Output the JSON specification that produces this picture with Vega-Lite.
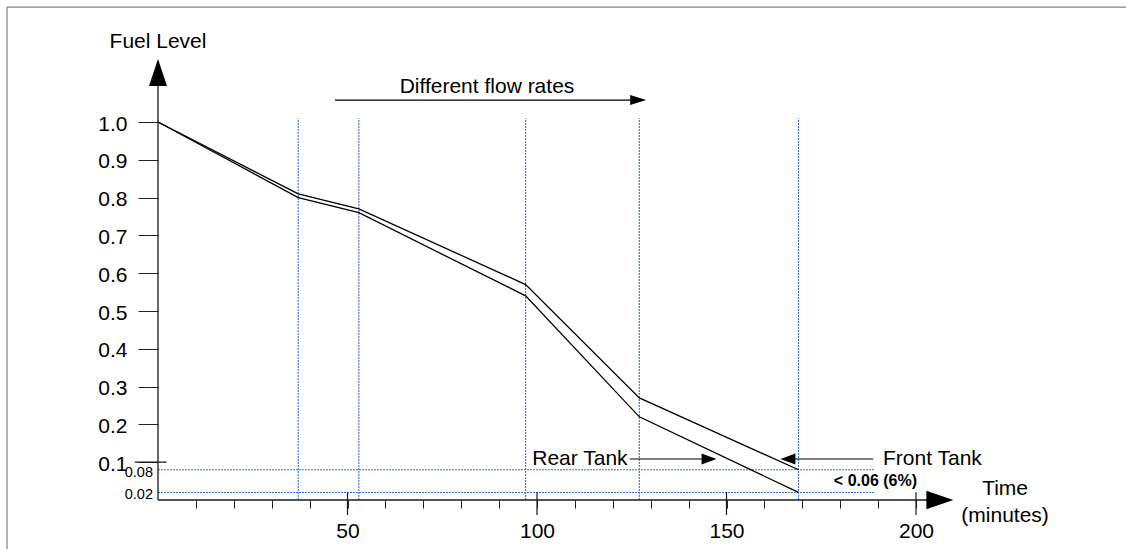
{
  "$schema": "https://vega.github.io/schema/vega-lite/v6.json",
  "autosize": {"type": "none"},
  "padding": {"left": 158, "top": 122, "right": 210, "bottom": 49},
  "width": 758,
  "height": 378,
  "background": "white",
  "config": {
    "view": {"stroke": null},
    "font": "Liberation Sans",
    "text": {"font": "Liberation Sans", "color": "black"}
  },
  "encoding": {
    "x": {
      "field": "time",
      "type": "quantitative",
      "scale": {"domain": [0, 200], "nice": false, "zero": false},
      "axis": {
        "title": null,
        "domain": false,
        "grid": false,
        "values": [10, 20, 30, 40, 50, 60, 70, 80, 90, 100, 110, 120, 130, 140, 150, 160, 170, 180, 190, 200],
        "labelExpr": "datum.value % 50 === 0 ? datum.label : ''",
        "tickSize": 8,
        "tickColor": "#222222",
        "tickWidth": 1,
        "labelPadding": 12,
        "labelFontSize": 21,
        "labelFont": "Liberation Sans",
        "labelColor": "black",
        "labelFlush": false,
        "labelOverlap": false
      }
    },
    "y": {
      "field": "level",
      "type": "quantitative",
      "scale": {"domain": [0, 1], "nice": false, "zero": false},
      "axis": {
        "title": null,
        "domain": false,
        "grid": false,
        "values": [0.1, 0.2, 0.3, 0.4, 0.5, 0.6, 0.7, 0.8, 0.9, 1.0],
        "format": ".1f",
        "tickSize": 20,
        "tickColor": "#222222",
        "tickWidth": 1,
        "labelPadding": 11,
        "labelOffset": 2,
        "labelFontSize": 21,
        "labelFont": "Liberation Sans",
        "labelColor": "black",
        "labelFlush": false,
        "labelOverlap": false
      }
    }
  },
  "layer": [
    {
      "description": "outer frame",
      "data": {"values": [
        {"time": -39.84, "time2": 262, "level": 1.304, "level2": 1.304},
        {"time": -39.84, "time2": -39.84, "level": 1.304, "level2": -0.2}
      ]},
      "mark": {"type": "rule", "color": "#808080", "strokeWidth": 1.2},
      "encoding": {"x2": {"field": "time2"}, "y2": {"field": "level2"}}
    },
    {
      "description": "dotted markers where the flow rate changes",
      "data": {"values": [
        {"time": 37, "level": 0, "level2": 1.01},
        {"time": 53, "level": 0, "level2": 1.01},
        {"time": 97, "level": 0, "level2": 1.01},
        {"time": 127, "level": 0, "level2": 1.01},
        {"time": 169, "level": 0, "level2": 1.01}
      ]},
      "mark": {"type": "rule", "color": "#3a6fd4", "strokeWidth": 1.1, "strokeDash": [2, 1]},
      "encoding": {"y2": {"field": "level2"}}
    },
    {
      "description": "final fuel levels",
      "data": {"name": "finals", "values": [
        {"time": 0, "time2": 189, "level": 0.08, "label": "0.08"},
        {"time": 0, "time2": 189, "level": 0.02, "label": "0.02"}
      ]},
      "mark": {"type": "rule", "color": "#3a6fd4", "strokeWidth": 1.1, "strokeDash": [2, 1]},
      "encoding": {"x2": {"field": "time2"}}
    },
    {
      "data": {"name": "finals"},
      "mark": {"type": "text", "align": "right", "baseline": "middle", "fontSize": 14.5, "dx": -5, "dy": 3},
      "encoding": {"text": {"field": "label"}}
    },
    {
      "description": "axis lines",
      "data": {"values": [
        {"time": 0, "time2": 0, "level": 0, "level2": 1.1},
        {"time": 0, "time2": 203, "level": 0, "level2": 0},
        {"time": -6.1, "time2": 2.3, "level": 0.1, "level2": 0.1}
      ]},
      "mark": {"type": "rule", "color": "#1a1a1a", "strokeWidth": 1.3},
      "encoding": {"x2": {"field": "time2"}, "y2": {"field": "level2"}}
    },
    {
      "description": "major time ticks",
      "data": {"values": [
        {"time": 50, "level": 0.0204, "level2": -0.0397},
        {"time": 100, "level": 0.0204, "level2": -0.0397},
        {"time": 150, "level": 0.0204, "level2": -0.0397},
        {"time": 200, "level": 0.0204, "level2": -0.0397}
      ]},
      "mark": {"type": "rule", "color": "#1a1a1a", "strokeWidth": 1.2},
      "encoding": {"y2": {"field": "level2"}}
    },
    {
      "data": {"values": [{"time": 0, "level": 1.131}]},
      "mark": {"type": "point", "shape": "M 0 -1 L -0.667 1 L 0.667 1 Z", "size": 729, "filled": true, "color": "black", "opacity": 1, "strokeWidth": 0}
    },
    {
      "data": {"values": [{"time": 206.3, "level": 0}]},
      "mark": {"type": "point", "shape": "M 1 0 L -1 -0.69 L -1 0.69 Z", "size": 729, "filled": true, "color": "black", "opacity": 1, "strokeWidth": 0}
    },
    {
      "description": "fuel level of each tank",
      "data": {"values": [
        {"tank": "Front", "time": 0, "level": 1.0},
        {"tank": "Front", "time": 37, "level": 0.81},
        {"tank": "Front", "time": 53, "level": 0.77},
        {"tank": "Front", "time": 97, "level": 0.57},
        {"tank": "Front", "time": 127, "level": 0.27},
        {"tank": "Front", "time": 169, "level": 0.08},
        {"tank": "Rear", "time": 0, "level": 1.0},
        {"tank": "Rear", "time": 37, "level": 0.80},
        {"tank": "Rear", "time": 53, "level": 0.76},
        {"tank": "Rear", "time": 97, "level": 0.54},
        {"tank": "Rear", "time": 127, "level": 0.22},
        {"tank": "Rear", "time": 169, "level": 0.02}
      ]},
      "mark": {"type": "line", "color": "black", "strokeWidth": 1.3},
      "encoding": {"detail": {"field": "tank"}}
    },
    {
      "description": "annotation arrow shafts",
      "data": {"values": [
        {"time": 46.7, "time2": 126.7, "level": 1.058},
        {"time": 124.5, "time2": 145.4, "level": 0.1085},
        {"time": 166.2, "time2": 188.7, "level": 0.1085}
      ]},
      "mark": {"type": "rule", "color": "black", "strokeWidth": 1.2},
      "encoding": {"x2": {"field": "time2"}}
    },
    {
      "data": {"values": [{"time": 126.7, "level": 1.058}]},
      "mark": {"type": "point", "shape": "M 1 0 L -1 -0.625 L -1 0.625 Z", "size": 256, "filled": true, "color": "black", "opacity": 1, "strokeWidth": 0}
    },
    {
      "data": {"values": [{"time": 145.4, "level": 0.1085}]},
      "mark": {"type": "point", "shape": "M 1 0 L -1 -0.73 L -1 0.73 Z", "size": 225, "filled": true, "color": "black", "opacity": 1, "strokeWidth": 0}
    },
    {
      "data": {"values": [{"time": 166.2, "level": 0.1085}]},
      "mark": {"type": "point", "shape": "M -1 0 L 1 -0.73 L 1 0.73 Z", "size": 225, "filled": true, "color": "black", "opacity": 1, "strokeWidth": 0}
    },
    {
      "data": {"values": [
        {"time": 0, "level": 1.196, "label": "Fuel Level"},
        {"time": 86.8, "level": 1.076, "label": "Different flow rates"},
        {"time": 223.5, "level": 0.0132, "label": "Time"},
        {"time": 223.5, "level": -0.058, "label": "(minutes)"}
      ]},
      "mark": {"type": "text", "align": "center", "baseline": "alphabetic", "fontSize": 21},
      "encoding": {"text": {"field": "label"}}
    },
    {
      "data": {"values": [{"time": 123.9, "level": 0.0926, "label": "Rear Tank"}]},
      "mark": {"type": "text", "align": "right", "baseline": "alphabetic", "fontSize": 21},
      "encoding": {"text": {"field": "label"}}
    },
    {
      "data": {"values": [{"time": 191.3, "level": 0.0926, "label": "Front Tank"}]},
      "mark": {"type": "text", "align": "left", "baseline": "alphabetic", "fontSize": 21},
      "encoding": {"text": {"field": "label"}}
    },
    {
      "data": {"values": [{"time": 189.3, "level": 0.037, "label": "< 0.06 (6%)"}]},
      "mark": {"type": "text", "align": "center", "baseline": "alphabetic", "fontSize": 16, "fontWeight": "bold"},
      "encoding": {"text": {"field": "label"}}
    }
  ]
}
